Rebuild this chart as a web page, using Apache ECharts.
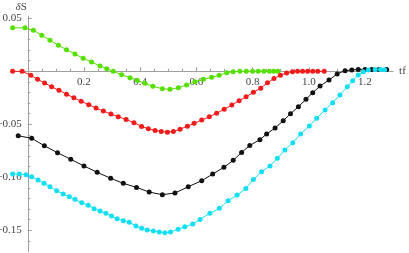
<!DOCTYPE html>
<html><head><meta charset="utf-8">
<script src="https://cdn.jsdelivr.net/npm/echarts@6/dist/echarts.min.js"></script>
<style>html,body{margin:0;padding:0;background:#fff}#c{width:409px;height:253px}</style>
</head><body><div id="c"></div>
<script>
// values: [tf, deltaS]
const greenPts = [[-0.054,0.041],[-0.010,0.041],[0.020,0.0387],[0.050,0.034],[0.079,0.0292],[0.109,0.0245],[0.138,0.0204],[0.168,0.0163],[0.197,0.0123],[0.227,0.0088],[0.257,0.005],[0.281,0.0025],[0.304,0],[0.334,-0.0032],[0.364,-0.006],[0.390,-0.0087],[0.417,-0.0113],[0.445,-0.0142],[0.479,-0.0164],[0.506,-0.017],[0.536,-0.0155],[0.565,-0.0129],[0.595,-0.0098],[0.625,-0.0075],[0.654,-0.0057],[0.681,-0.0038],[0.708,-0.0013],[0.731,-0.0004],[0.755,0],[0.778,0],[0.80,0],[0.82,0],[0.84,0],[0.86,0],[0.875,0],[0.89,0]];
const redPts = [[-0.054,0],[-0.020,0],[0.011,-0.0038],[0.035,-0.0075],[0.060,-0.011],[0.085,-0.0145],[0.111,-0.0179],[0.138,-0.0217],[0.164,-0.0249],[0.190,-0.0283],[0.217,-0.0315],[0.243,-0.0346],[0.269,-0.0375],[0.296,-0.0403],[0.322,-0.0428],[0.350,-0.0455],[0.378,-0.0485],[0.405,-0.052],[0.429,-0.0542],[0.453,-0.0558],[0.475,-0.0568],[0.497,-0.0574],[0.518,-0.0568],[0.542,-0.0546],[0.568,-0.0518],[0.592,-0.0491],[0.619,-0.046],[0.646,-0.0428],[0.672,-0.0396],[0.699,-0.0358],[0.726,-0.0318],[0.752,-0.0277],[0.777,-0.024],[0.803,-0.0198],[0.829,-0.016],[0.853,-0.0108],[0.876,-0.0068],[0.899,-0.0038],[0.921,-0.0015],[0.942,-0.0003],[0.960,0],[0.978,0],[0.996,0],[1.014,0],[1.032,0],[1.055,0]];
const blackPts = [[-0.034,-0.0608],[0.014,-0.0632],[0.059,-0.0702],[0.106,-0.0768],[0.153,-0.083],[0.200,-0.0893],[0.247,-0.0953],[0.295,-0.1009],[0.340,-0.1057],[0.387,-0.1095],[0.432,-0.1139],[0.479,-0.1164],[0.524,-0.1148],[0.571,-0.1089],[0.619,-0.1032],[0.658,-0.0969],[0.698,-0.0906],[0.731,-0.0840],[0.761,-0.0765],[0.790,-0.0700],[0.826,-0.0645],[0.850,-0.0592],[0.880,-0.0535],[0.909,-0.0466],[0.935,-0.0400],[0.963,-0.0334],[0.990,-0.0264],[1.014,-0.0202],[1.040,-0.0139],[1.072,-0.0082],[1.101,-0.0025],[1.129,0.0006],[1.153,0.0012],[1.176,0.0018],[1.200,0.0018],[1.224,0.0018],[1.250,0.0018],[1.277,0.0018]];
const cyanPts = [[-0.054,-0.0969],[-0.030,-0.0969],[-0.006,-0.0975],[0.014,-0.0994],[0.037,-0.1025],[0.058,-0.1057],[0.079,-0.1089],[0.103,-0.1126],[0.126,-0.1158],[0.148,-0.1183],[0.168,-0.1208],[0.192,-0.124],[0.215,-0.1264],[0.236,-0.1296],[0.257,-0.1318],[0.278,-0.134],[0.298,-0.1365],[0.318,-0.1391],[0.340,-0.1409],[0.361,-0.1425],[0.385,-0.1459],[0.405,-0.1481],[0.425,-0.1497],[0.447,-0.1507],[0.468,-0.1516],[0.488,-0.1522],[0.508,-0.1516],[0.535,-0.1491],[0.559,-0.1466],[0.587,-0.1441],[0.613,-0.1397],[0.648,-0.134],[0.682,-0.1293],[0.713,-0.1221],[0.745,-0.1168],[0.776,-0.1105],[0.803,-0.1020],[0.832,-0.0947],[0.862,-0.0893],[0.888,-0.0821],[0.915,-0.0742],[0.943,-0.0674],[0.971,-0.0591],[1.002,-0.0516],[1.028,-0.0443],[1.058,-0.0365],[1.085,-0.0296],[1.111,-0.0223],[1.137,-0.0145],[1.156,-0.0089],[1.176,-0.0035],[1.194,-0.0005],[1.212,0.0012],[1.236,0.0018],[1.255,0.0018],[1.270,0.0015]];
const xMajor = [0.2,0.4,0.6,0.8,1.0,1.2];
const xMinor = [0.05,0.1,0.15,0.25,0.3,0.35,0.45,0.5,0.55,0.65,0.7,0.75,0.85,0.9,0.95,1.05,1.1,1.15,1.25];
const yMajor = [0.05,-0.05,-0.1,-0.15];
const yMinor = [0.04,0.03,0.02,0.01,-0.01,-0.02,-0.03,-0.04,-0.06,-0.07,-0.08,-0.09,-0.11,-0.12,-0.13,-0.14,-0.16];
const xRange = [-0.055, 1.3];
const yRange = [-0.17, 0.052];

const W = 409, H = 253;
const G = {left:12.3, right:15.9, top:16.2, bottom:1.5};
const plotW = W - G.left - G.right, plotH = H - G.top - G.bottom;
// distance from grid edge to the zero lines (labels are laid out from the grid edge)
const zeroFromBottom = plotH * (0 - yRange[0]) / (yRange[1] - yRange[0]);
const zeroFromLeft = plotW * (0 - xRange[0]) / (xRange[1] - xRange[0]);

const axisCol = '#a0a0a0';
const txtCol = '#444';
const font = 'Liberation Serif';
const chart = echarts.init(document.getElementById('c'), null, {renderer:'canvas'});
function fmtY(v){ return (v<0?'\u2212':'') + Math.abs(v).toFixed(2); }
function fmtX(v){ return v.toFixed(1); }
function ser(data, col){
  return {type:'line', data:data, symbol:'circle', symbolSize:5, showSymbol:true, clip:false,
    lineStyle:{color:col, width:1}, itemStyle:{color:col}, emphasis:{disabled:true}, animation:false};
}
chart.setOption({
  animation:false,
  grid:{left:G.left, right:G.right, top:G.top, bottom:G.bottom, containLabel:false, outerBoundsMode:'none'},
  xAxis:[
    {type:'value', min:xRange[0], max:xRange[1], position:'bottom',
     axisLine:{onZero:true, onZeroAxisIndex:0, lineStyle:{color:axisCol, width:1}},
     axisTick:{show:true, inside:true, length:4, customValues:xMajor, lineStyle:{color:axisCol}},
     axisLabel:{customValues:xMajor, formatter:fmtX, color:txtCol, fontFamily:font, fontSize:11, margin:5 - zeroFromBottom},
     splitLine:{show:false},
     name:'tf', nameLocation:'end', nameGap:6, nameTextStyle:{color:txtCol, fontFamily:font, fontSize:11}},
    {type:'value', min:xRange[0], max:xRange[1], position:'bottom',
     axisLine:{show:false, onZero:true, onZeroAxisIndex:1},
     axisTick:{show:true, inside:true, length:2.5, customValues:xMinor, lineStyle:{color:axisCol}},
     axisLabel:{show:false}, splitLine:{show:false}}
  ],
  yAxis:[
    {type:'value', min:yRange[0], max:yRange[1], position:'left',
     axisLine:{show:true, onZero:true, onZeroAxisIndex:0, lineStyle:{color:axisCol, width:1}},
     axisTick:{show:true, inside:true, length:4, customValues:yMajor, lineStyle:{color:axisCol}},
     axisLabel:{customValues:yMajor, formatter:fmtY, color:txtCol, fontFamily:font, fontSize:11, margin:6 - zeroFromLeft},
     splitLine:{show:false},
     name:'{i|δ}S', nameLocation:'end', nameGap:3,
     nameTextStyle:{color:txtCol, fontFamily:font, fontSize:11, align:'right', padding:[0,1,0,0],
       rich:{i:{fontStyle:'italic', fontFamily:font, fontSize:11, color:txtCol}}}},
    {type:'value', min:yRange[0], max:yRange[1], position:'left',
     axisLine:{show:false, onZero:true, onZeroAxisIndex:1},
     axisTick:{show:true, inside:true, length:2.5, customValues:yMinor, lineStyle:{color:axisCol}},
     axisLabel:{show:false}, splitLine:{show:false}}
  ],
  series:[ser(greenPts,'#55e000'), ser(redPts,'#f21b1b'), ser(blackPts,'#111111'), ser(cyanPts,'#14dff2')]
});
</script></body></html>
